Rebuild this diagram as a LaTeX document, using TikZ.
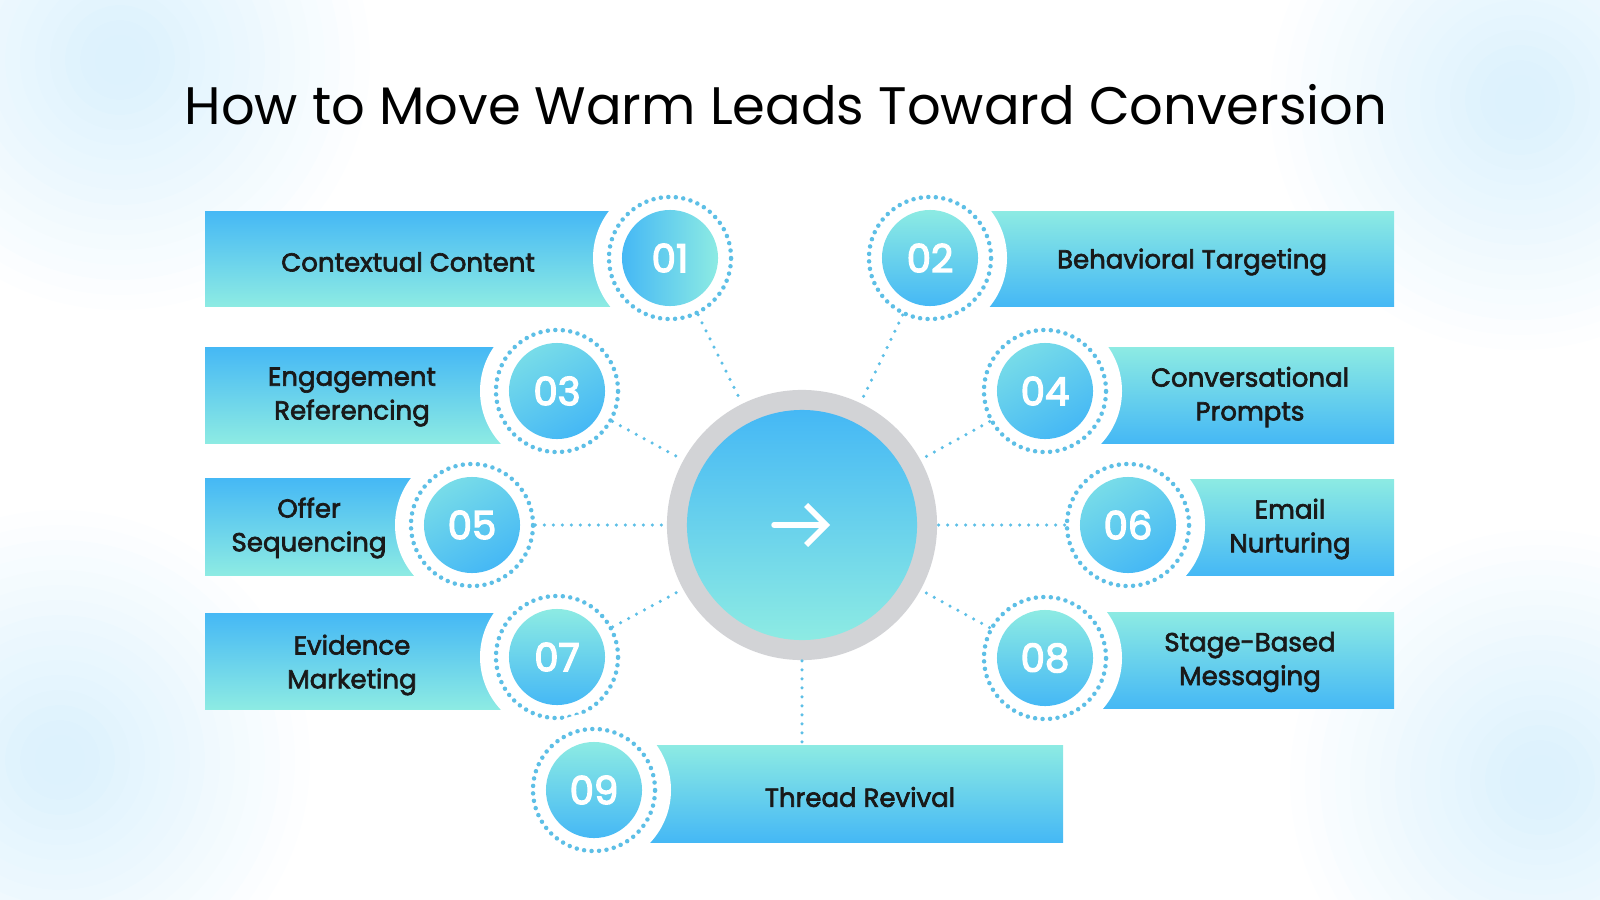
\documentclass[tikz,border=0pt]{standalone}
\usepackage{fontspec}
\setmainfont{Poppins}
\newfontfamily\lblfont[FakeBold=2.5]{Poppins}
\newfontfamily\numfont[FakeBold=3.5]{Poppins}
\usetikzlibrary{arrows.meta}
\definecolor{cblue}{HTML}{45B8F5}
\definecolor{caqua}{HTML}{8DEBE3}
\definecolor{dotc}{HTML}{5DBFE6}
\definecolor{ringg}{HTML}{D2D3D6}
\begin{document}
\begin{tikzpicture}[x=0.01cm,y=-0.01cm,
  barL/.style={top color=cblue,bottom color=caqua,draw=none},
  barR/.style={top color=caqua,bottom color=cblue,draw=none},
  halo/.style={fill=white,draw=none},
  ring/.style={circle,minimum size=1.22cm,draw=dotc,line width=0.045cm,dash pattern=on 0pt off 0.075cm,line cap=round,inner sep=0pt},
  num/.style={circle,minimum size=0.96cm,inner sep=0pt,text=white,font=\fontsize{11}{12}\numfont},
  lbl/.style={align=center,font=\fontsize{7.4}{9.6}\lblfont,text=black!90},
  conn/.style={dotc,line width=0.035cm,dash pattern=on 0pt off 0.09cm,line cap=round}]
\useasboundingbox (0,0) rectangle (1600,900);
% background blurs
\foreach \p in {(120,60),(1520,100),(60,760),(1540,780)}{
  \foreach \r in {250,235,...,25}{
    \fill[cblue,opacity=0.012] \p circle (\r);}}
\node[font=\fontsize{15}{18}\selectfont] (title) at (786,105) {How to Move Warm Leads Toward Conversion};
% bars
\fill[barL] (205,211) rectangle (670,306);
\fill[barL] (205,347) rectangle (557,443);
\fill[barL] (205,478) rectangle (472,575);
\fill[barL] (205,613) rectangle (557,709);
\fill[barR] (594,745) rectangle (1063,842);
\fill[barR] (930,211) rectangle (1394,306);
\fill[barR] (1045,347) rectangle (1394,443);
\fill[barR] (1128,479) rectangle (1394,575);
\fill[barR] (1045,612) rectangle (1394,708);
\coordinate (b9) at (802,745);
% labels
\node[lbl] (l1) at (408,262) {Contextual Content};
\node[lbl] (l3) at (352,397) {Engagement\\Referencing};
\node[lbl] (l5) at (309,528) {Offer\\Sequencing};
\node[lbl] (l7) at (352,665) {Evidence\\Marketing};
\node[lbl] (l9) at (860,797) {Thread Revival};
\node[lbl] (l2) at (1192,262) {Behavioral Targeting};
\node[lbl] (l4) at (1250,397) {Conversational\\Prompts};
\node[lbl] (l6) at (1290,529) {Email\\Nurturing};
\node[lbl] (l8) at (1250,662) {Stage-Based\\Messaging};
% numbered circles
\foreach \n/\x/\y in {1/670/258,3/557/391,5/472/525,7/557/657,9/594/790,2/930/258,4/1045/391,6/1128/525,8/1045/658}{
  \fill[halo] (\x,\y) circle (77);
  \node[ring] (n\n) at (\x,\y) {};
}
\foreach \n/\x/\y in {1/670/258}{
  \node[num,left color=cblue,right color=caqua] (c\n) at (\x,\y) {0\n};}
\foreach \n/\x/\y in {2/930/258,7/557/657,8/1045/658,9/594/790}{
  \node[num,top color=caqua,bottom color=cblue] (c\n) at (\x,\y) {0\n};}
\foreach \n/\x/\y in {3/557/391,4/1045/391,5/472/525,6/1128/525}{
  \node[num,top color=caqua!70!cblue,bottom color=cblue,shading angle=30] (c\n) at (\x,\y) {0\n};}
% center
\node[circle,fill=ringg,minimum size=2.7cm,inner sep=0pt] (c) at (802,525) {};
\node[circle,top color=cblue,bottom color=caqua,minimum size=2.3cm,inner sep=0pt] (ci) at (802,525) {};
\coordinate (a1) at (774,525); \coordinate (a2) at (830,525);
\draw[white,line width=0.055cm,line cap=round,-{Straight Barb[length=0.2cm,width=0.4cm,line width=0.055cm]}] (a1) -- (a2);
% connectors
\foreach \n in {1,2,3,4,5,6,7,8}{\draw[conn] (n\n) -- (c);}
\draw[conn] (c) -- (b9);
\end{tikzpicture}
\end{document}
